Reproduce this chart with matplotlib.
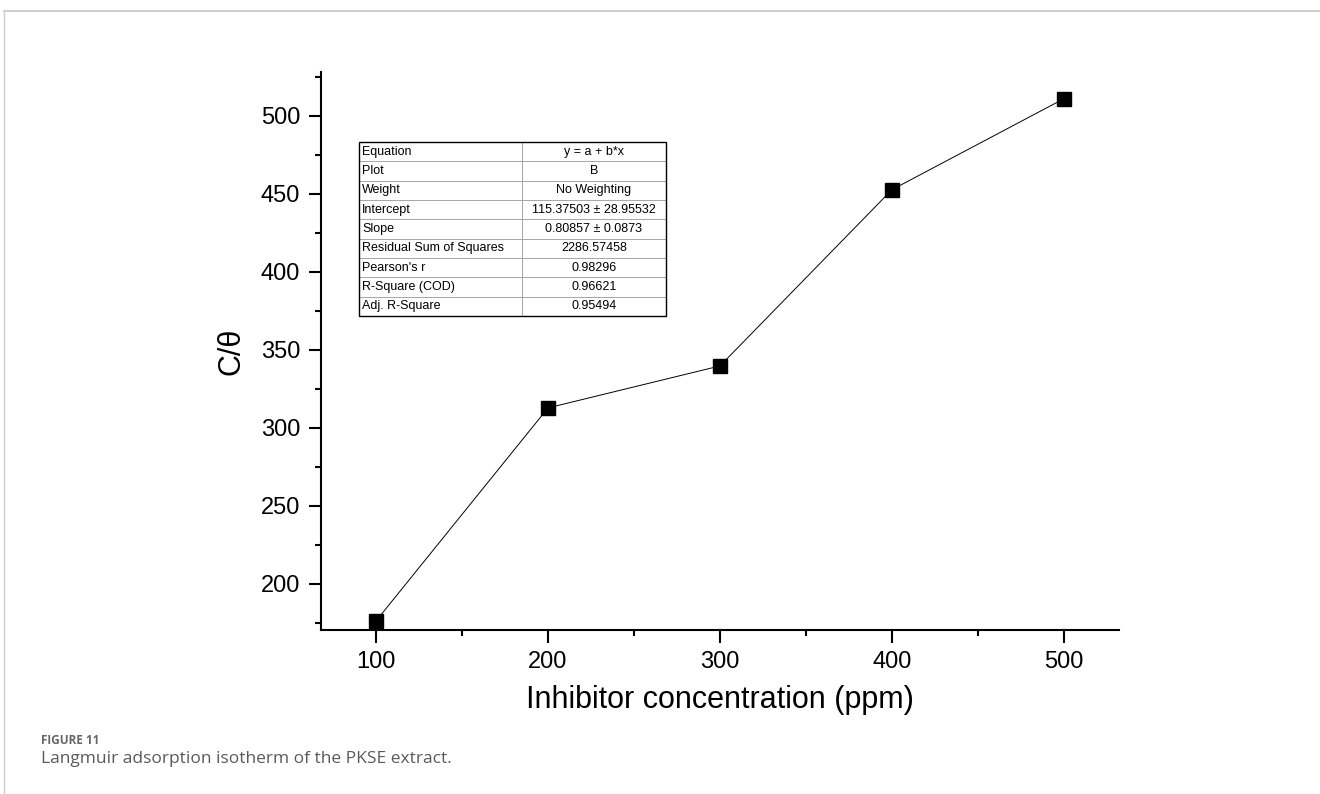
import matplotlib.pyplot as plt
from matplotlib.lines import Line2D

plt.rcParams['font.family'] = ['Liberation Sans', 'DejaVu Sans']

concentration = [100, 200, 300, 400, 500]
c_over_theta = [176.3, 312.8, 339.7, 452.6, 510.9]

fit_names = ['Equation', 'Plot', 'Weight', 'Intercept', 'Slope',
             'Residual Sum of Squares', "Pearson's r", 'R-Square (COD)', 'Adj. R-Square']
fit_values = ['y = a + b*x', 'B', 'No Weighting', '115.37503 \u00b1 28.95532',
              '0.80857 \u00b1 0.0873', '2286.57458', '0.98296', '0.96621', '0.95494']

W, H = 1320, 794
fig = plt.figure(figsize=(W / 100, H / 100), dpi=100)

# panel frame (top and left light gray lines)
fig.add_artist(Line2D([4 / W, 1], [1 - 11 / H, 1 - 11 / H], color='#d0d0d0', lw=1.5))
fig.add_artist(Line2D([4 / W, 4 / W], [0, 1 - 11 / H], color='#d0d0d0', lw=1.0))

ax = fig.add_axes([321 / W, 1 - 630 / H, (1119 - 321) / W, (630 - 72) / H])
ax.plot(concentration, c_over_theta, color='black', lw=0.7, marker='s',
        markersize=9.5, markerfacecolor='black', markeredgecolor='black')

ax.set_xlim(68, 532)
ax.set_ylim(170.5, 528)
ax.set_xticks([100, 200, 300, 400, 500])
ax.set_xticks([150, 250, 350, 450], minor=True)
ax.set_yticks([200, 250, 300, 350, 400, 450, 500])
ax.set_yticks([175, 225, 275, 325, 375, 425, 475, 525], minor=True)

for side in ['top', 'right']:
    ax.spines[side].set_visible(False)
for side in ['left', 'bottom']:
    ax.spines[side].set_linewidth(1.5)

ax.tick_params(which='major', direction='out', length=9, width=1.5, labelsize=17, pad=6)
ax.tick_params(which='minor', direction='out', length=4.5, width=1.5)

ax.set_xlabel('Inhibitor concentration (ppm)', fontsize=22, labelpad=9)
ax.set_ylabel('C/\u03b8', fontsize=22, labelpad=10)

# fit results table
tax = fig.add_axes([359 / W, 1 - 316 / H, (666 - 359) / W, (316 - 142) / H])
tax.axis('off')
tbl = tax.table(cellText=[[n, v] for n, v in zip(fit_names, fit_values)],
                colWidths=[0.53, 0.47], bbox=[0, 0, 1, 1])
tbl.auto_set_font_size(False)
for (r, c), cell in tbl.get_celld().items():
    cell.set_edgecolor('#a0a0a0')
    cell.set_linewidth(0.6)
    cell.get_text().set_fontsize(9)
    if c == 0:
        cell.get_text().set_ha('left')
        cell.PAD = 0.02
    else:
        cell.get_text().set_ha('center')
border = plt.Rectangle((0, 0), 1, 1, transform=tax.transAxes, fill=False,
                       edgecolor='black', lw=1.0, clip_on=False)
tax.add_patch(border)

fig.text(41 / W, 1 - 741 / H, 'FIGURE 11', fontsize=8.5, fontweight='bold',
         color='#666666', va='center', family=['Open Sans', 'DejaVu Sans'])
fig.text(41 / W, 1 - 759 / H, 'Langmuir adsorption isotherm of the PKSE extract.',
         fontsize=12.5, color='#5a5a5a', va='center', family=['Open Sans', 'DejaVu Sans'])

fig.savefig('out.png', dpi=100)
